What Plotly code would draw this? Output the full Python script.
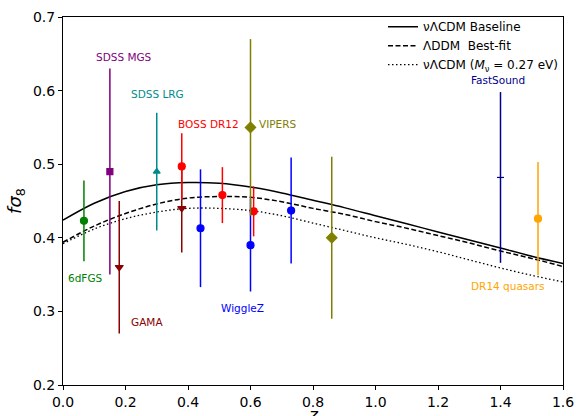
import plotly.graph_objects as go

# ---- model curves ----
z_grid = [0.0, 0.1, 0.2, 0.3, 0.4, 0.5, 0.6, 0.7, 0.8, 0.9, 1.0, 1.1, 1.2, 1.3, 1.4, 1.5, 1.6]
fs8_baseline = [0.424, 0.447, 0.463, 0.472, 0.475, 0.474, 0.469, 0.461, 0.451, 0.441,
                0.430, 0.419, 0.408, 0.397, 0.386, 0.375, 0.365]
fs8_lddm = [0.394, 0.416, 0.433, 0.446, 0.454, 0.456, 0.455, 0.449, 0.440, 0.432,
            0.422, 0.413, 0.403, 0.393, 0.382, 0.372, 0.361]
fs8_mnu = [0.392, 0.412, 0.426, 0.435, 0.440, 0.440, 0.437, 0.430, 0.420, 0.410,
           0.400, 0.391, 0.381, 0.370, 0.359, 0.349, 0.340]

# ---- RSD data points ----
surveys = ["6dFGS", "SDSS MGS", "GAMA", "SDSS LRG", "BOSS DR12", "WiggleZ", "VIPERS",
           "FastSound", "DR14 quasars"]
survey_z = [[0.067], [0.15], [0.18, 0.38], [0.30], [0.38, 0.51, 0.61], [0.44, 0.60, 0.73],
            [0.60, 0.86], [1.40], [1.52]]
survey_fs8 = [[0.423], [0.49], [0.36, 0.44], [0.49], [0.497, 0.458, 0.436], [0.413, 0.390, 0.437],
              [0.55, 0.40], [0.482], [0.426]]
survey_err = [[0.055], [0.14], [0.09, 0.06], [0.08], [0.045, 0.038, 0.034], [0.080, 0.063, 0.072],
              [0.12, 0.11], [0.116], [0.077]]

survey_colors = ["green", "purple", "darkred", "darkcyan", "red", "blue", "olive", "darkblue", "orange"]
survey_symbols = ["circle", "square", "triangle-down", "triangle-up", "circle", "circle", "diamond",
                  "line-ew-open", "circle"]
marker_sizes = [7, 6, 7, 6, 7, 7, 8, 5, 7]

# label positions (z, fs8) for each survey name
label_pos = [(0.01, 0.345), (0.10, 0.645), (0.21, 0.595), (0.21, 0.285), (0.36, 0.555),
             (0.50, 0.305), (0.62, 0.555), (1.30, 0.615), (1.30, 0.334)]
label_order = ["6dFGS", "SDSS MGS", "SDSS LRG", "GAMA", "BOSS DR12", "WiggleZ", "VIPERS",
               "FastSound", "DR14 quasars"]

FONT = "DejaVu Sans"

fig = go.Figure()

fig.add_trace(go.Scatter(x=z_grid, y=fs8_baseline, mode="lines",
                         line=dict(color="black", width=1.5, shape="spline"),
                         name="\u03bd\u039bCDM Baseline"))
fig.add_trace(go.Scatter(x=z_grid, y=fs8_lddm, mode="lines",
                         line=dict(color="black", width=1.5, dash="5px,2.5px", shape="spline"),
                         name="\u039bDDM\u00a0\u00a0Best-fit"))
fig.add_trace(go.Scatter(x=z_grid, y=fs8_mnu, mode="lines",
                         line=dict(color="black", width=1.3, dash="1.5px,2.5px", shape="spline"),
                         name="\u03bd\u039bCDM (<i>M</i><sub>\u03bd</sub> = 0.27 eV)"))

for name, zz, ff, ee, col, sym, ms in zip(surveys, survey_z, survey_fs8, survey_err,
                                          survey_colors, survey_symbols, marker_sizes):
    fig.add_trace(go.Scatter(
        x=zz, y=ff, mode="markers", showlegend=False, name=name,
        marker=dict(color=col, symbol=sym, size=ms, line=dict(color=col, width=1.2)),
        error_y=dict(type="data", array=ee, visible=True, color=col, thickness=1.5, width=0),
    ))

color_of = dict(zip(surveys, survey_colors))
for name, (lx, ly) in zip(label_order, label_pos):
    fig.add_annotation(x=lx, y=ly, xref="x", yref="y", text=name, showarrow=False,
                       xanchor="left", yanchor="middle",
                       font=dict(family=FONT, size=10.5, color=color_of[name]))

# x-axis label (partly cut off at the bottom edge, as in the original)
fig.add_annotation(x=0.5, y=-0.05, xref="paper", yref="paper", text="<i>z</i>", showarrow=False,
                   xanchor="center", yanchor="top", font=dict(family=FONT, size=17, color="black"))

fig.update_layout(
    width=584, height=416,
    margin=dict(l=63, r=21, t=13, b=31),
    paper_bgcolor="white", plot_bgcolor="white",
    font=dict(family=FONT, color="black"),
    showlegend=True,
    legend=dict(x=0.64, y=1.013, xanchor="left", yanchor="top", bgcolor="rgba(0,0,0,0)",
                borderwidth=0, font=dict(family=FONT, size=12), tracegroupgap=0,
                itemwidth=30),
)
fig.update_xaxes(range=[0, 1.6], tickvals=[0, 0.2, 0.4, 0.6, 0.8, 1.0, 1.2, 1.4, 1.6],
                 tickformat=".1f", showgrid=False, zeroline=False,
                 showline=True, linecolor="black", linewidth=1, mirror=True,
                 ticks="outside", ticklen=4, tickcolor="black", tickfont=dict(size=14),
                 automargin=False)
fig.update_yaxes(range=[0.2, 0.7], tickvals=[0.2, 0.3, 0.4, 0.5, 0.6, 0.7],
                 tickformat=".1f", showgrid=False, zeroline=False,
                 showline=True, linecolor="black", linewidth=1, mirror=True,
                 ticks="outside", ticklen=4, tickcolor="black", tickfont=dict(size=14),
                 title=dict(text="<i>f\u03c3</i><sub>8</sub>", font=dict(size=18), standoff=6),
                 automargin=False)

fig.write_html("out.html")
